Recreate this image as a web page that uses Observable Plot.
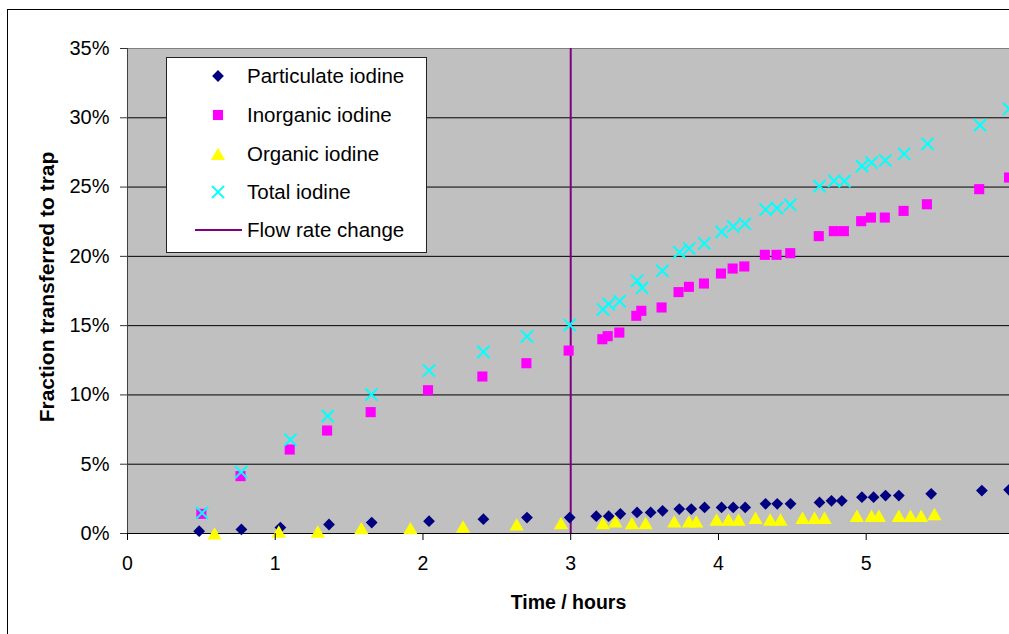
<!DOCTYPE html>
<html>
<head>
<meta charset="utf-8">
<script src="https://cdn.jsdelivr.net/npm/d3@7"></script>
<script src="https://cdn.jsdelivr.net/npm/@observablehq/plot@0.6"></script>
<style>
  html, body { margin: 0; padding: 0; background: #fff; overflow: hidden; }
  #wrap { position: relative; width: 1009px; height: 634px; font-family: "Liberation Sans", Arial, sans-serif; overflow: hidden; }
  #outer { position: absolute; left: 7px; top: 9px; width: 1100px; height: 700px; border: 1px solid #000; pointer-events: none; box-sizing: border-box; }
  #legend { position: absolute; left: 166px; top: 57px; width: 261px; height: 196px; box-sizing: border-box; background: #fff; border: 1px solid #222; }
  .item { position: absolute; left: 0; height: 30px; width: 258px; }
  .item svg { position: absolute; left: 25px; top: 0; }
  .item span { position: absolute; left: 80px; top: 50%; transform: translateY(-52%); font-size: 20.5px; color: #000; white-space: nowrap; }
</style>
</head>
<body>
<div id="wrap"><div id="chart"></div><div id="legend"></div><div id="outer"></div></div>
<script>
// Time (hours) and fraction (%) for each series
const partT = [0.485,0.771,1.035,1.364,1.653,2.041,2.409,2.704,2.993,3.173,3.257,3.336,3.449,3.541,3.622,3.735,3.816,3.906,4.021,4.10,4.181,4.319,4.398,4.488,4.684,4.765,4.835,4.971,5.05,5.131,5.221,5.44,5.783,5.967];
const partV = [0.17,0.29,0.43,0.65,0.79,0.89,1.03,1.15,1.15,1.25,1.25,1.42,1.52,1.52,1.64,1.76,1.76,1.88,1.88,1.88,1.88,2.14,2.14,2.14,2.24,2.36,2.36,2.62,2.62,2.74,2.74,2.86,3.1,3.15];

const inorgT = [0.5,0.765,1.098,1.351,1.646,2.034,2.402,2.70,2.986,3.214,3.25,3.329,3.444,3.478,3.615,3.73,3.80,3.902,4.017,4.096,4.175,4.314,4.393,4.486,4.679,4.781,4.849,4.966,5.032,5.126,5.253,5.411,5.765,5.967];
const inorgV = [1.42,4.14,6.06,7.43,8.76,10.34,11.33,12.29,13.2,14.02,14.24,14.5,15.71,16.07,16.31,17.42,17.8,18.04,18.76,19.12,19.27,20.11,20.11,20.23,21.46,21.82,21.82,22.54,22.8,22.8,23.28,23.76,24.85,25.69];

const orgT = [0.589,1.024,1.288,1.583,1.915,2.271,2.634,2.934,3.218,3.302,3.414,3.507,3.701,3.80,3.85,3.987,4.068,4.136,4.251,4.35,4.42,4.569,4.65,4.718,4.937,5.036,5.086,5.221,5.30,5.372,5.462];
const orgV = [0.0,0.14,0.14,0.38,0.38,0.5,0.65,0.74,0.74,0.87,0.74,0.74,0.87,0.87,0.87,1.01,1.01,1.01,1.13,1.01,1.01,1.13,1.13,1.13,1.28,1.28,1.28,1.28,1.28,1.28,1.4];

const totT = [0.505,0.769,1.103,1.355,1.651,2.041,2.409,2.704,2.993,3.218,3.257,3.331,3.449,3.483,3.62,3.735,3.802,3.904,4.021,4.1,4.179,4.319,4.396,4.486,4.684,4.783,4.853,4.971,5.036,5.129,5.257,5.415,5.771,5.967];
const totV = [1.49,4.43,6.76,8.47,10.03,11.76,13.11,14.22,15.05,16.17,16.55,16.76,18.24,17.73,18.96,20.3,20.57,20.93,21.77,22.15,22.35,23.38,23.48,23.72,25.07,25.45,25.43,26.51,26.77,26.92,27.4,28.12,29.47,30.65];

const flowChange = [3];
const xTicks = [0,1,2,3,4,5];
const yTicks = [0,5,10,15,20,25,30,35];
const gridY = [5,10,15,20,25,30];
const seriesNames = ["Particulate iodine","Inorganic iodine","Organic iodine","Total iodine","Flow rate change"];

const zip = (T, V) => T.map((t, i) => ({t, v: V[i]}));
const particulate = zip(partT, partV);
const inorganic = zip(inorgT, inorgV);
const organic = zip(orgT, orgV);
const total = zip(totT, totV);

const chart = Plot.plot({
  width: 1009,
  height: 634,
  marginLeft: 127,
  marginRight: 0,
  marginTop: 48,
  marginBottom: 101,
  style: {fontFamily: "'Liberation Sans', Arial, sans-serif", fontSize: "19.5px", background: "transparent", color: "#000"},
  x: {domain: [0, 5.97]},
  y: {domain: [0, 35]},
  marks: [
    Plot.frame({fill: "#c0c0c0", stroke: null}),
    Plot.ruleY(gridY, {stroke: "#000", strokeWidth: 1}),
    Plot.ruleY([35], {stroke: "#808080", strokeWidth: 1}),
    Plot.ruleX(flowChange, {stroke: "#800080", strokeWidth: 2}),
    Plot.ruleY([0], {stroke: "#000", strokeWidth: 1}),
    Plot.ruleX([0], {stroke: "#404040", strokeWidth: 1}),
    Plot.dot(particulate, {x: "t", y: "v", symbol: "diamond2", r: 5.3, fill: "#000080", stroke: null}),
    Plot.dot(inorganic, {x: "t", y: "v", symbol: "square", r: 5.7, fill: "#ff00ff", stroke: null}),
    Plot.dot(organic, {x: "t", y: "v", symbol: "triangle", r: 5.3, fill: "#ffff00", stroke: null, dy: 2}),
    Plot.dot(total, {x: "t", y: "v", symbol: "times", r: 5.6, stroke: "#00ffff", strokeWidth: 2, fill: "none"}),
    Plot.axisX({ticks: xTicks, tickSize: 7, tickPadding: 16, tickFormat: d => String(d), label: null, stroke: "#000", fontSize: 19.5}),
    Plot.axisY({ticks: yTicks, tickSize: 7, tickPadding: 11, tickFormat: d => d + "%", label: null, stroke: "#333", fontSize: 20}),
    Plot.text(["Time / hours"], {frameAnchor: "bottom", dy: 69, lineAnchor: "middle", fontWeight: "bold", fontSize: 19.5}),
    Plot.text(["Fraction transferred to trap"], {frameAnchor: "left", rotate: -90, dx: -80, dy: -4, textAnchor: "middle", lineAnchor: "middle", fontWeight: "bold", fontSize: 21})
  ]
});
document.getElementById("chart").appendChild(chart);

// Legend (HTML overlay inside the plot area, as in the reference)
const legend = document.getElementById("legend");
const rowsY = [18, 57, 96, 134, 172];
const sym = (type, size) => d3.symbol(type, size)();
const markers = [
  `<path transform="translate(26,15)" d="${sym(d3.symbolDiamond2, Math.PI*5.3*5.3)}" fill="#000080"/>`,
  `<path transform="translate(26,15)" d="${sym(d3.symbolSquare, Math.PI*5.7*5.7)}" fill="#ff00ff"/>`,
  `<path transform="translate(26,17)" d="${sym(d3.symbolTriangle, Math.PI*5.3*5.3)}" fill="#ffff00"/>`,
  `<path transform="translate(26,15)" d="${sym(d3.symbolTimes, Math.PI*5.6*5.6)}" stroke="#00ffff" stroke-width="2" fill="none"/>`,
  `<line x1="3" x2="50" y1="15" y2="15" stroke="#800080" stroke-width="2"/>`
];
seriesNames.forEach((name, i) => {
  const d = document.createElement("div");
  d.className = "item";
  d.style.top = (rowsY[i] - 15) + "px";
  d.innerHTML = `<svg width="52" height="30">${markers[i]}</svg><span>${name}</span>`;
  legend.appendChild(d);
});
</script>
</body>
</html>
